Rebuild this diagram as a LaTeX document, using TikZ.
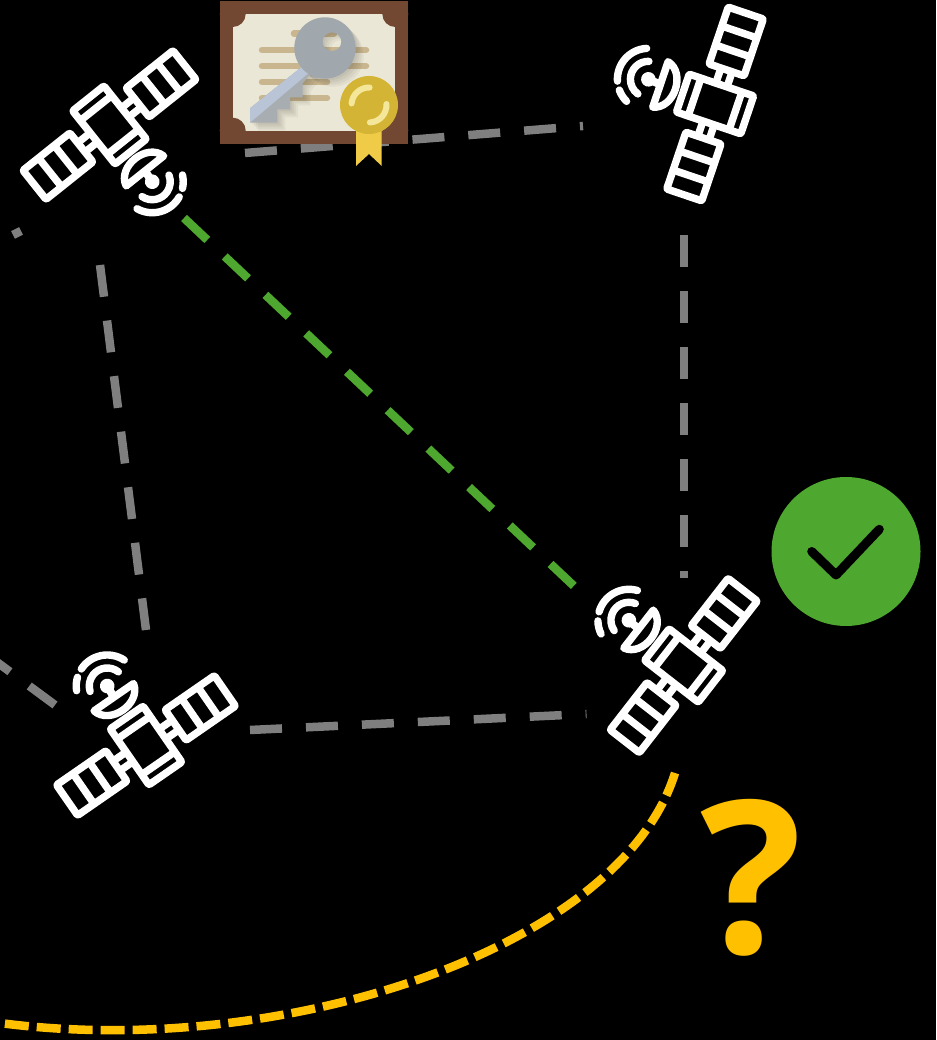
\documentclass[tikz,border=0pt]{standalone}
\usepackage{fontspec}
\setmainfont{DejaVu Sans}
\newfontfamily\queryfont{Open Sans}
\definecolor{linkgray}{HTML}{7F7F7F}
\definecolor{okgreen}{HTML}{4EA72E}
\definecolor{warnyellow}{HTML}{FFC000}
\definecolor{certbrown}{HTML}{734832}
\definecolor{certcream}{HTML}{EBE7D6}
\definecolor{certtan}{HTML}{C9B68E}
\definecolor{keygray}{HTML}{A0A8AE}
\definecolor{keylight}{HTML}{B9C4D6}
\definecolor{keymid}{HTML}{A7ADB0}
\definecolor{sealgold}{HTML}{D4B434}
\definecolor{ribbongold}{HTML}{EFCB47}
\definecolor{sealshine}{HTML}{F5E79A}
\newcommand{\keyblade}{(250,931.7) -- (304,975) -- (312,968) -- (302.7,956.7) -- (302.7,942.7) -- (290,942.7) -- (290,930.7) -- (277.3,930.7) -- (277.3,917.3) -- (250,917.3) -- cycle}
\tikzset{
  link/.style={draw=linkgray,line width=8.5pt,dash pattern=on 32pt off 24pt},
  linkok/.style={draw=okgreen,line width=8.5pt,dash pattern=on 32pt off 24pt},
  linkwarn/.style={draw=warnyellow,line width=8.5pt,dash pattern=on 24pt off 8pt},
  satline/.style={draw=white,line width=7.4pt,line join=round},
  satwave/.style={draw=white,line width=7.4pt,line cap=round},
  certline/.style={draw=certtan,line width=6.5pt,line cap=round},
  satellite/.pic={
    \draw[satline,rounded corners=1pt] (-20,-34) rectangle (20,34);
    \draw[satline] (-20,21.6) -- (20,21.6) (-20,-21.6) -- (20,-21.6);
    \foreach \s in {1,-1}{
      \draw[satline,rounded corners=1pt] (\s*36,-18.5) rectangle (\s*96,18.5);
      \draw[satline] (\s*56,-18.5) -- (\s*56,18.5) (\s*76,-18.5) -- (\s*76,18.5);
      \draw[satline] (\s*20,5.9) -- (\s*36,5.9) (\s*20,-5.9) -- (\s*36,-5.9);
    }
    \draw[satline,fill=black] (-25,-58) .. controls (-20,-37) and (18,-37) .. (23,-58) -- cycle;
    \draw[line width=8pt,white] (-1,-58) -- (-2,-71);
    \fill[white] (-2,-71) circle (7.3);
    \draw[satwave] (-2,-71) ++(-163:18) arc[start angle=-163,end angle=-17,radius=18];
    \draw[satwave] (-2,-71) ++(-158:31) arc[start angle=-158,end angle=-68,radius=31];
    \draw[satwave] (-2,-71) ++(-51:31) arc[start angle=-51,end angle=-26,radius=31];
  }
}
\begin{document}
\begin{tikzpicture}[x=1pt,y=1pt]
\useasboundingbox (0,0) rectangle (936,1040);
\fill[black] (0,0) rectangle (936,1040);
% link end points
\coordinate (ta) at (245,887);
\coordinate (tb) at (583,914);
\coordinate (ra) at (684,805);
\coordinate (rb) at (684,462);
\coordinate (la) at (100,775);
\coordinate (lb) at (146,410);
\coordinate (ba) at (250,310);
\coordinate (bb) at (586.5,326);
\coordinate (ga) at (184,822);
\coordinate (gb) at (576,452);
\coordinate (oa) at (55,335);
\coordinate (ob) at (-10,383);
\coordinate (sa) at (21,809);
\coordinate (sb) at (13,805);
\coordinate (ya) at (675,267);
\coordinate (yb) at (0,17);
\draw[link] (ta) -- (tb);
\draw[link] (ra) -- (rb);
\draw[link] (la) -- (lb);
\draw[link] (ba) -- (bb);
\draw[link] (oa) -- (ob);
\draw[link] (sa) -- (sb);
\draw[linkok] (ga) -- (gb);
\draw[linkwarn] (ya) .. controls (620,90) and (280,-20) .. (yb);
% satellites
\pic (sattl) at (109.5,915) [rotate=38.6] {satellite};
\pic (sattr) at (715,936) [rotate=251.3] {satellite};
\pic (satbr) at (683.7,374.5) [rotate=232.1] {satellite};
\pic (satbl) at (146,294.5) [rotate=214.7] {satellite};
% certificate
\fill[certbrown] (220,896) rectangle (408,1039);
\fill[certcream] (232.7,909.3) rectangle (395.3,1026);
\foreach \cx/\cy in {232.7/909.3,395.3/909.3,232.7/1026,395.3/1026}
  \fill[certbrown] (\cx,\cy) circle (13);
\draw[certline] (262,990) -- (366,990);
\draw[certline] (262,974) -- (366,974);
\draw[certline] (262,958) -- (327,958);
\draw[certline] (262,942) -- (327,942);
\draw[certline] (294,1006.5) -- (334,1006.5);
\begin{scope}
  \clip (232.7,909.3) rectangle (395.3,1026);
  \foreach \d in {2,4,6,8}{
    \fill[black,opacity=0.045,even odd rule,shift={(\d,-\d)}] (325,992) circle (30.7) (332,998.3) circle (9.3);
    \fill[black,opacity=0.045,shift={(\d,-\d)}] \keyblade;
  }
\end{scope}
\fill[keymid] \keyblade;
\fill[keylight] (250,931.7) -- (304,975) -- (310,968) -- (250,917.3) -- cycle;
\fill[keygray,even odd rule] (325,992) circle (30.7) (332,998.3) circle (9.3);
\fill[ribbongold] (356,910) -- (381.7,910) -- (381.7,874) -- (369,886) -- (356,874) -- cycle;
\fill[sealgold] (369,935) circle (29);
\draw[sealshine,line width=6pt,line cap=round] (369,935) ++(175:17.5) arc[start angle=175,end angle=88,radius=17.5];
\draw[sealshine,line width=6pt,line cap=round] (369,935) ++(-87:17.5) arc[start angle=-87,end angle=3,radius=17.5];
% verdict marks
\node[circle,fill=okgreen,minimum size=149pt,inner sep=0pt] (ok) at (846,488.5) {};
\coordinate (cka) at (811.7,488.5);
\coordinate (ckb) at (836,465);
\coordinate (ckc) at (879.3,510.7);
\draw[black,line width=9pt,line cap=round,line join=round] (cka) -- (ckb) -- (ckc);
\node[text=warnyellow,font=\queryfont\bfseries\fontsize{213}{213}\selectfont,anchor=base,inner sep=0pt] (query) at (751.5,86.5) {?};
\end{tikzpicture}
\end{document}
